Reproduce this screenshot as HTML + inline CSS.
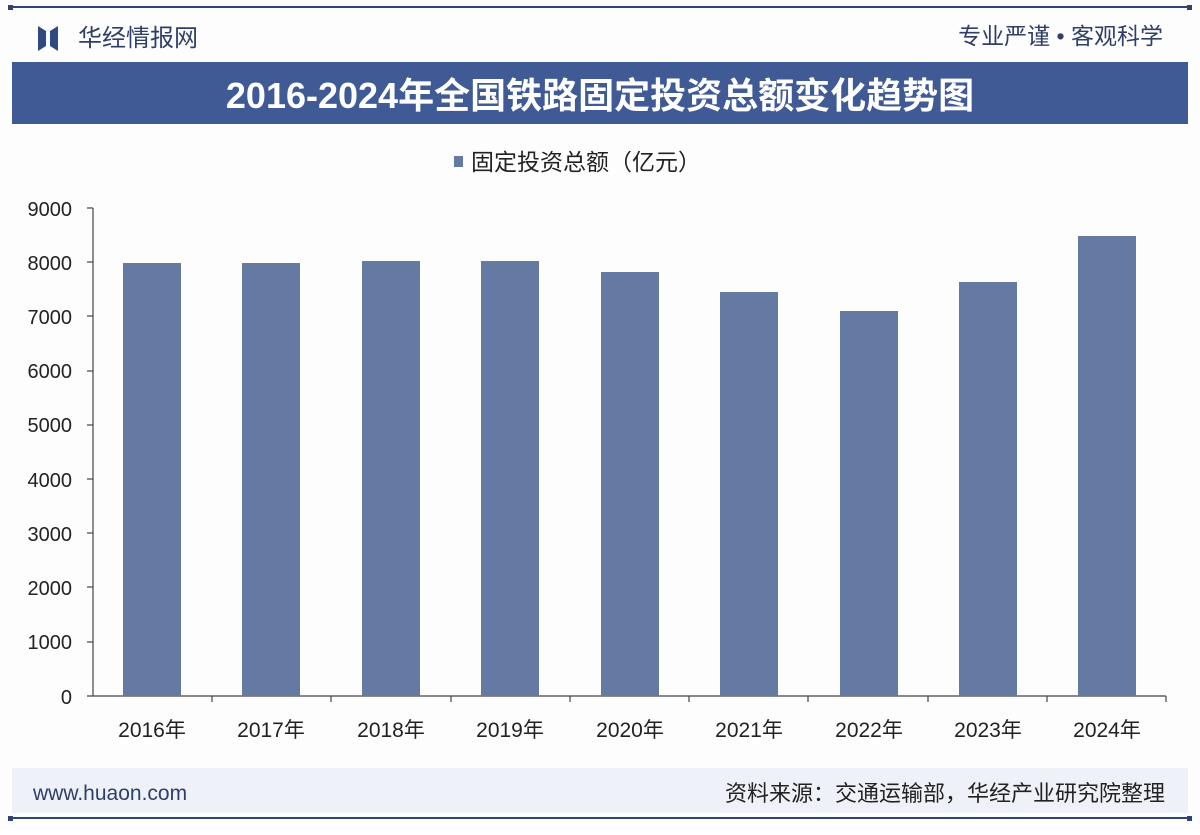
<!DOCTYPE html>
<html><head><meta charset="utf-8"><style>
body{margin:0;background:#fff;}
svg text{font-family:"Liberation Sans","Noto Sans CJK SC",sans-serif;}
</style></head><body>
<svg width="1200" height="830" xmlns="http://www.w3.org/2000/svg">
<rect width="1200" height="830" fill="#fdfdfe"/>
<line x1="10" y1="7" x2="1190" y2="7" stroke="#2f4470" stroke-width="2"/>
<rect x="8" y="5" width="5" height="5" fill="#2f4470"/><rect x="1187" y="5" width="5" height="5" fill="#2f4470"/>
<polygon points="38,26 46,31 46,46 38,51" fill="#2f4a80"/>
<polygon points="58,26 50,31 50,46 58,51" fill="#2f4a80"/>
<text x="78" y="46" font-size="24" fill="#2f3f66">华经情报网</text>
<text x="1163" y="44" font-size="23" fill="#2f3f66" text-anchor="end">专业严谨 • 客观科学</text>
<rect x="12" y="62" width="1176" height="62" fill="#3f5a94"/>
<text x="600" y="108" font-size="36" font-weight="bold" fill="#fff" text-anchor="middle" font-family="'Liberation Serif','Noto Serif CJK SC',serif">2016-2024年全国铁路固定投资总额变化趋势图</text>
<rect x="454" y="156" width="9" height="11" fill="#647aa3"/>
<text x="471" y="170" font-size="23" fill="#222">固定投资总额（亿元）</text>
<g font-size="20" fill="#222" text-anchor="end">
<text x="72" y="216">9000</text><text x="72" y="270">8000</text><text x="72" y="324">7000</text><text x="72" y="378">6000</text><text x="72" y="432">5000</text><text x="72" y="487">4000</text><text x="72" y="541">3000</text><text x="72" y="595">2000</text><text x="72" y="649">1000</text><text x="72" y="704">0</text>
</g>
<g stroke="#444" stroke-width="1.2">
<line x1="93" y1="208" x2="93" y2="696"/>
<line x1="87" y1="696" x2="1166" y2="696"/>
<line x1="87" y1="208" x2="93" y2="208"/><line x1="87" y1="262" x2="93" y2="262"/><line x1="87" y1="316" x2="93" y2="316"/><line x1="87" y1="371" x2="93" y2="371"/><line x1="87" y1="425" x2="93" y2="425"/><line x1="87" y1="479" x2="93" y2="479"/><line x1="87" y1="533" x2="93" y2="533"/><line x1="87" y1="587" x2="93" y2="587"/><line x1="87" y1="642" x2="93" y2="642"/>
<line x1="212" y1="696" x2="212" y2="702"/><line x1="331" y1="696" x2="331" y2="702"/><line x1="451" y1="696" x2="451" y2="702"/><line x1="570" y1="696" x2="570" y2="702"/><line x1="689" y1="696" x2="689" y2="702"/><line x1="808" y1="696" x2="808" y2="702"/><line x1="928" y1="696" x2="928" y2="702"/><line x1="1047" y1="696" x2="1047" y2="702"/><line x1="1166" y1="696" x2="1166" y2="702"/>
</g>
<g fill="#647aa3">
<rect x="123" y="263" width="58" height="433"/>
<rect x="242" y="263" width="58" height="433"/>
<rect x="362" y="261" width="58" height="435"/>
<rect x="481" y="261" width="58" height="435"/>
<rect x="601" y="272" width="58" height="424"/>
<rect x="720" y="292" width="58" height="404"/>
<rect x="840" y="311" width="58" height="385"/>
<rect x="959" y="282" width="58" height="414"/>
<rect x="1078" y="236" width="58" height="460"/>
</g>
<g font-size="21" fill="#222" text-anchor="middle">
<text x="152" y="737">2016年</text><text x="271" y="737">2017年</text><text x="391" y="737">2018年</text><text x="510" y="737">2019年</text><text x="630" y="737">2020年</text><text x="749" y="737">2021年</text><text x="869" y="737">2022年</text><text x="988" y="737">2023年</text><text x="1107" y="737">2024年</text>
</g>
<rect x="12" y="768" width="1176" height="45" fill="#eef1f7"/>
<text x="33" y="800" font-size="21" fill="#2f3f66">www.huaon.com</text>
<text x="1165" y="801" font-size="22" fill="#222" text-anchor="end">资料来源：交通运输部，华经产业研究院整理</text>
<line x1="10" y1="818" x2="1190" y2="818" stroke="#2f4470" stroke-width="2"/>
<rect x="8" y="816" width="5" height="5" fill="#2f4470"/><rect x="1187" y="816" width="5" height="5" fill="#2f4470"/>
</svg>
</body></html>
